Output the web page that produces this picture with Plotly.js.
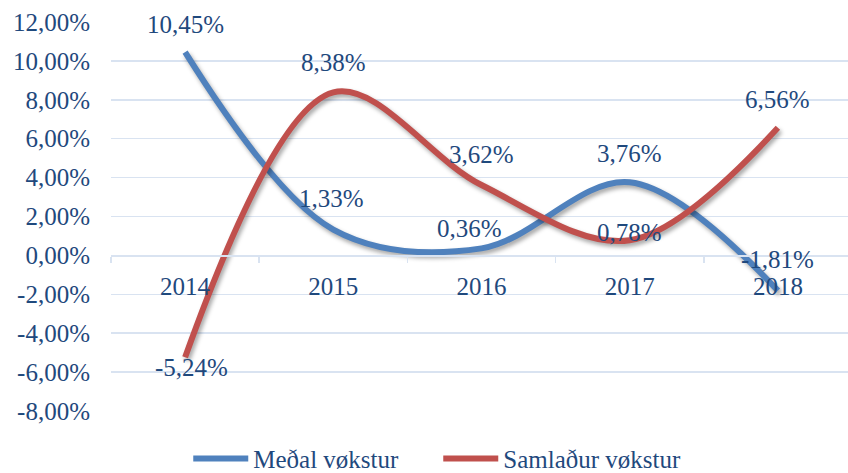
<!DOCTYPE html>
<html>
<head>
<meta charset="utf-8">
<script src="https://cdn.plot.ly/plotly-3.0.1.min.js"></script>
<style>
html,body{margin:0;padding:0;background:#fff;}
#chart{width:848px;height:473px;}
</style>
</head>
<body>
<div id="chart"></div>
<script>
const categories = ['2014', '2015', '2016', '2017', '2018'];
const medalVokstur = [10.45, 1.33, 0.36, 3.76, -1.81];
const samladurVokstur = [-5.24, 8.38, 3.62, 0.78, 6.56];
const seriesNames = ['Meðal vøkstur', 'Samlaður vøkstur'];
const yTickVals = [-8, -6, -4, -2, 0, 2, 4, 6, 8, 10, 12];

// label offsets (style only, in pixels)
const blueShift = [[0, 28], [-2, 31], [-12, 20], [0, 29], [0, 31]];
const redShift = [[6, -10], [0, 30], [0, 30], [0, 8], [0, 28]];

const TXT = '#1F497D';
const GRID = '#D9E3F1';
const FONT = 'Liberation Serif, Times New Roman, serif';

function fmt(v) {
  return v.toFixed(2).replace('.', ',') + '%';
}

const traces = [
  {x: categories, y: medalVokstur, name: seriesNames[0], type: 'scatter', mode: 'lines',
   line: {color: '#4F81BD', width: 6, shape: 'spline', smoothing: 1}},
  {x: categories, y: samladurVokstur, name: seriesNames[1], type: 'scatter', mode: 'lines',
   line: {color: '#C0504D', width: 6, shape: 'spline', smoothing: 1}}
];

const annotations = [];
medalVokstur.forEach((v, i) => annotations.push({xref: 'x', yref: 'y', x: i, y: v, text: fmt(v), showarrow: false,
  xshift: blueShift[i][0], yshift: blueShift[i][1], font: {family: FONT, size: 25, color: TXT}}));
samladurVokstur.forEach((v, i) => annotations.push({xref: 'x', yref: 'y', x: i, y: v, text: fmt(v), showarrow: false,
  xshift: redShift[i][0], yshift: redShift[i][1], font: {family: FONT, size: 25, color: TXT}}));

const layout = {
  width: 848, height: 473,
  margin: {l: 111, r: 0, t: 22, b: 62, autoexpand: false},
  paper_bgcolor: '#fff', plot_bgcolor: '#fff',
  font: {family: FONT, size: 25, color: TXT},
  showlegend: true,
  legend: {orientation: 'h', xref: 'container', yref: 'container', x: 0.222, xanchor: 'left', y: 0.03, yanchor: 'middle',
    font: {family: FONT, size: 25, color: TXT}, itemwidth: 55, entrywidth: 180, entrywidthmode: 'pixels',
    traceorder: 'normal'},
  xaxis: {type: 'category', range: [-0.5, 4.473], anchor: 'free', position: 0.4,
    showgrid: false, showline: true, linecolor: GRID, linewidth: 1.5,
    ticks: 'outside', tickson: 'boundaries', ticklen: 6, tickcolor: GRID, tickwidth: 1.5,
    ticklabelstandoff: 8,
    tickfont: {family: FONT, size: 25, color: TXT}, fixedrange: true},
  yaxis: {range: [-8, 12], tickvals: yTickVals, ticktext: yTickVals.map(fmt),
    showgrid: true, gridcolor: GRID, gridwidth: 1.5, zeroline: false, showline: false,
    ticks: '', ticklabelstandoff: 20,
    tickfont: {family: FONT, size: 25, color: TXT}, fixedrange: true},
  annotations: annotations
};

Plotly.newPlot('chart', traces, layout, {displayModeBar: false, staticPlot: true}).then(() => {
  document.querySelectorAll('.scatterlayer .trace path.js-line').forEach(p => {
    p.style.filter = 'drop-shadow(2px 3px 2px rgba(0,0,0,0.35))';
  });
});
</script>
</body>
</html>
